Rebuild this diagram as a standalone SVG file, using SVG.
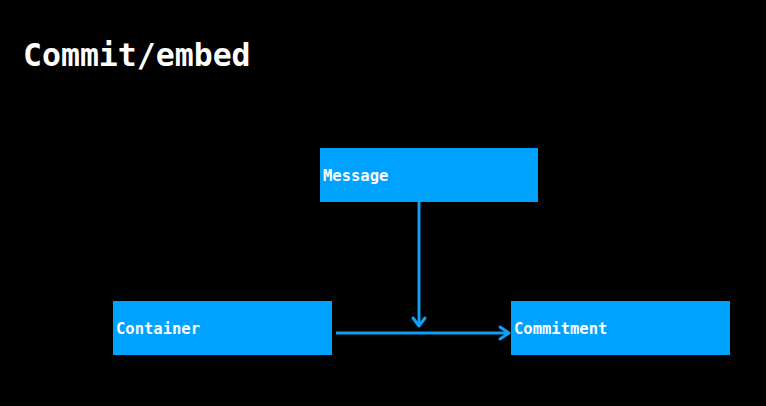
<svg xmlns="http://www.w3.org/2000/svg" width="766" height="406" viewBox="0 0 766 406">
<style>
.node rect{fill:#00a2ff}
.node text{fill:#ffffff;font-family:"DejaVu Sans Mono","Liberation Mono",monospace;font-weight:bold;font-size:15.5px}
.title{fill:#ffffff;font-family:"DejaVu Sans Mono","Liberation Mono",monospace;font-weight:bold;font-size:31.5px}
.edge{stroke:#0f9ff5;stroke-width:3;fill:none}
.head{stroke:#0f9ff5;stroke-width:3;fill:none;stroke-linecap:round;stroke-linejoin:round}
</style>
<rect width="766" height="406" fill="#000000"/>
<text class="title" x="23" y="66">Commit/embed</text>
<g id="connectors">
<line class="edge" x1="419" y1="202" x2="419" y2="325"/>
<polyline class="head" points="413,318 419,326 425,318"/>
<line class="edge" x1="336" y1="333" x2="508" y2="333"/>
<polyline class="head" points="500,327 509,333 500,339"/>
</g>
<g id="message" class="node">
<rect x="320" y="148" width="218" height="54"/>
<text x="323" y="181">Message</text>
</g>
<g id="container" class="node">
<rect x="113" y="301" width="219" height="54"/>
<text x="116" y="334">Container</text>
</g>
<g id="commitment" class="node">
<rect x="511" y="301" width="219" height="54"/>
<text x="514" y="334">Commitment</text>
</g>
</svg>
